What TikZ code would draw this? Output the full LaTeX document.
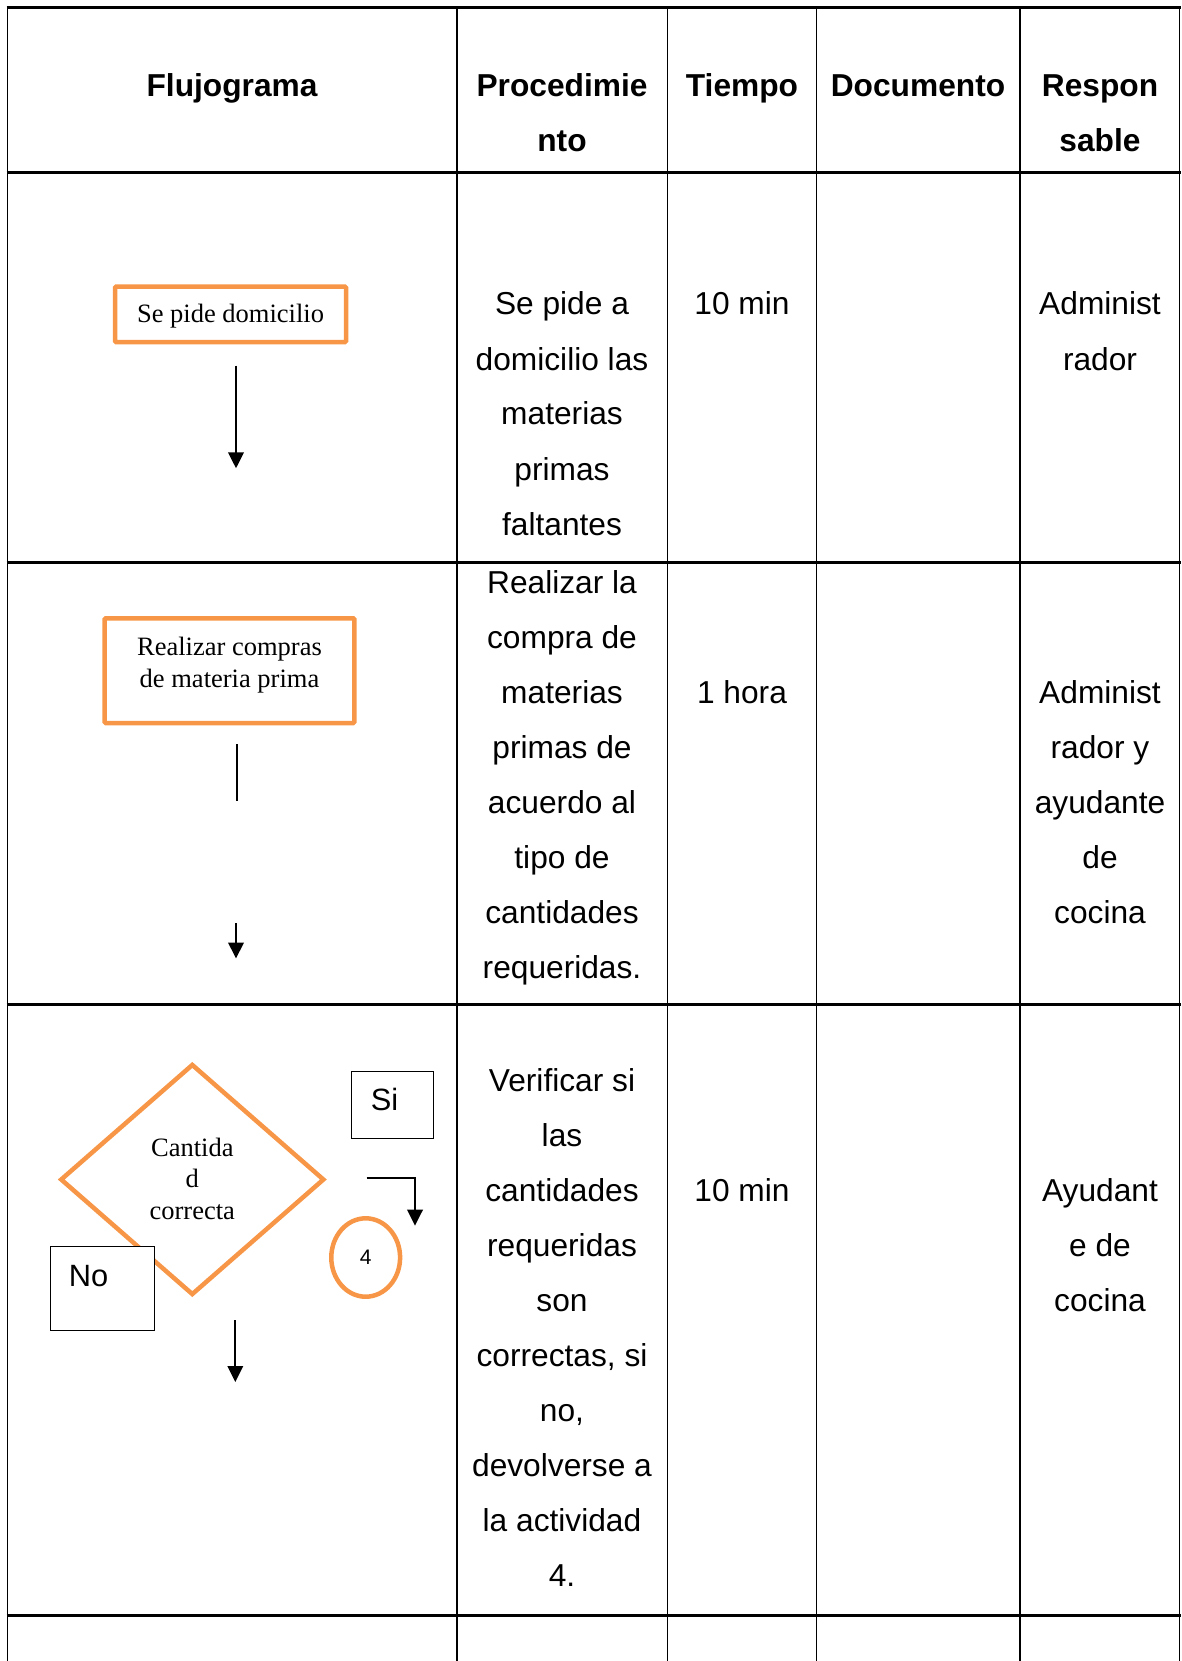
\documentclass[tikz,border=0pt]{standalone}
\usepackage{fontspec}
\setmainfont{Liberation Sans}
\newfontfamily\serifface{Liberation Serif}
\usetikzlibrary{arrows.meta,shapes.geometric}
\definecolor{accentorange}{HTML}{F79646}
% centred stack of lines whose baseline is the first line
\newcommand\cellstack[1]{\vtop{\halign{\hfil##\hfil\cr#1\crcr}}}

\begin{document}
\begin{tikzpicture}[x=1pt,y=-1pt,
  gridh/.style={line width=3pt},
  gridv/.style={line width=1.9pt},
  celltext/.style={inner sep=0pt, anchor=base, font=\fontsize{31.7}{55}\selectfont},
  headtext/.style={celltext, font=\fontsize{31.7}{55}\selectfont\bfseries},
  orangebox/.style={draw=accentorange, line width=4.5pt, rounded corners=1pt, inner sep=0pt,
    font=\serifface\fontsize{26.5}{32.3}\selectfont},
  tagbox/.style={draw=black, line width=1.4pt, fill=white, inner sep=0pt,
    font=\fontsize{30.8}{36}\selectfont},
  flow/.style={line width=2pt, -{Triangle[length=16pt,width=15.5pt]}},
  plain/.style={line width=2pt}
]
\useasboundingbox (0,0) rectangle (1181,1661);

% table grid
\foreach \x in {7.5,457,667.5,816.5,1020,1179.5}
  \draw[gridv] (\x,7.5) -- (\x,1661);
\foreach \y in {7.5,172.7,562.5,1004,1615}
  \draw[gridh] (6.5,\y) -- (1180.5,\y);

% header
\node[headtext] (hFlujo) at (232,96.7) {Flujograma};
\node[headtext] (hProc) at (562,96.7) {\cellstack{Procedimie\cr nto}};
\node[headtext] (hTiempo) at (742,96.7) {Tiempo};
\node[headtext] (hDoc) at (918,96.7) {Documento};
\node[headtext] (hResp) at (1100,96.7) {\cellstack{Respon\cr sable}};

% row 1
\node[celltext] (p1) at (562,315) {\cellstack{Se pide a\cr domicilio las\cr materias\cr primas\cr faltantes}};
\node[celltext] (t1) at (742,315) {10 min};
\node[celltext] (r1) at (1100,315) {\cellstack{Administ\cr rador}};

% row 2
\node[celltext] (p2) at (562,593.5) {\cellstack{Realizar la\cr compra de\cr materias\cr primas de\cr acuerdo al\cr tipo de\cr cantidades\cr requeridas.}};
\node[celltext] (t2) at (742,703.5) {1 hora};
\node[celltext] (r2) at (1100,703.5) {\cellstack{Administ\cr rador y\cr ayudante\cr de\cr cocina}};

% row 3
\node[celltext] (p3) at (562,1091.7) {\cellstack{Verificar si\cr las\cr cantidades\cr requeridas\cr son\cr correctas, si\cr no,\cr devolverse a\cr la actividad\cr 4.}};
\node[celltext] (t3) at (742,1201.7) {10 min};
\node[celltext] (r3) at (1100,1201.7) {\cellstack{Ayudant\cr e de\cr cocina}};

% flowchart steps
\node[orangebox, anchor=base, minimum width=231pt, text height=36pt, text depth=19.3pt]
  (pedido) at (230.5,322.7) {Se pide domicilio};
\node[orangebox, anchor=base, minimum width=249.6pt, text height=36.7pt, text depth=68pt]
  (compras) at (229.5,655) {\cellstack{Realizar compras\cr de materia prima}};
\node[draw=accentorange, line width=4.5pt, shape=diamond, minimum width=264pt, minimum height=231pt,
  inner sep=0pt, font=\serifface\fontsize{26.5}{31.2}\selectfont, text height=20pt, text depth=65.6pt]
  (cantidad) at (192.3,1179.5) {\cellstack{Cantida\cr d\cr correcta}};
\node[draw=accentorange, line width=4.5pt, ellipse, minimum width=68.8pt, minimum height=78.4pt,
  inner sep=0pt, font=\fontsize{21}{24}\selectfont] (act4) at (365.7,1257.5) {4};
\node[tagbox, anchor=base west, text height=38.3pt, text depth=28.7pt]
  (si) at (350.7,1110) {\makebox[82pt][l]{\hspace{19.5pt}Si}};
\node[tagbox, anchor=base west, text height=39.3pt, text depth=44.7pt]
  (no) at (49.7,1286) {\makebox[104pt][l]{\hspace{18.5pt}No}};

% connectors
\coordinate (a1s) at (236,365.7);
\coordinate (a1e) at (236,468.3);
\draw[flow] (a1s) -- (a1e);
\coordinate (l2s) at (236.7,744.3);
\coordinate (l2e) at (236.7,800.7);
\draw[plain] (l2s) -- (l2e);
\coordinate (a2s) at (236,923.3);
\coordinate (a2e) at (236,958.5);
\draw[flow] (a2s) -- (a2e);
\coordinate (sis) at (366.7,1177.7);
\coordinate (sie) at (415,1225.7);
\draw[flow] (sis) -| (sie);
\coordinate (a3s) at (235.3,1320);
\coordinate (a3e) at (235.3,1382);
\draw[flow] (a3s) -- (a3e);
\end{tikzpicture}
\end{document}
